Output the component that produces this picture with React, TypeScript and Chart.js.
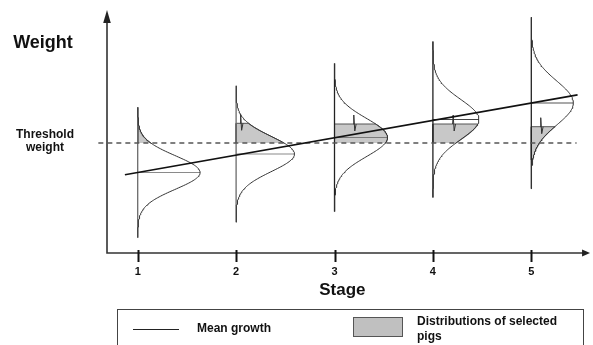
import React, { useEffect, useRef } from "react";
import { Chart, registerables } from "chart.js";

Chart.register(...registerables);

// ---- data (stage units on x, weight units on y) ----
const stages = [1, 2, 3, 4, 5];
const stageLabels = ["1", "2", "3", "4", "5"];
const meanWeights = [8.05, 9.9, 11.55, 13.35, 15.0];
const sdWeights = [1.67, 1.75, 1.9, 2.0, 2.2];
const peakDensity = [0.634, 0.593, 0.539, 0.468, 0.427];
const selectedTop = [14.56, 12.97, 12.9, 12.9, 12.63];
const selectedBottom = [11.0, 11.0, 11.0, 11.0, 9.3];
const markStage: (number | null)[] = [null, 2.05, 3.2, 4.21, 5.1];
const thresholdWeight = 11.0;
const thresholdStages = [0.6, 5.46];
const growthStages = [0.87, 5.47];
const growthWeights = [7.82, 15.81];
const tailSpan = 3.9;
const axisStages = [0.688, 5.597];
const axisWeights = [0, 24.3];

const FONT = '"Liberation Sans", Arial, Helvetica, sans-serif';

function curvePoints(i: number, from: number, to: number, n: number) {
  const pts: { x: number; y: number }[] = [];
  for (let k = 0; k <= n; k++) {
    const w = from + ((to - from) * k) / n;
    const z = (w - meanWeights[i]) / sdWeights[i];
    pts.push({ x: stages[i] + peakDensity[i] * Math.exp(-0.5 * z * z), y: w });
  }
  return pts;
}

const verticalColors = ["#6a6a6a", "#6a6a6a", "#222", "#222", "#222"];
const meanLineColors = ["#8a8a8a", "#8a8a8a", "#7a7a7a", "#444", "#555"];

function buildDatasets() {
  const ds: any[] = [];
  const base = { showLine: true, pointRadius: 0, pointHoverRadius: 0, fill: false, tension: 0 };
  ds.push({
    ...base,
    label: "Mean growth",
    data: growthStages.map((s, k) => ({ x: s, y: growthWeights[k] })),
    borderColor: "#111",
    borderWidth: 1.6,
    order: 0,
  });
  ds.push({
    ...base,
    label: "Threshold",
    data: thresholdStages.map((s) => ({ x: s, y: thresholdWeight })),
    borderColor: "#555",
    borderWidth: 1.4,
    borderDash: [5, 4],
    order: 1,
  });
  stages.forEach((s, i) => {
    const lo = meanWeights[i] - tailSpan * sdWeights[i];
    const hi = meanWeights[i] + tailSpan * sdWeights[i];
    ds.push({
      ...base,
      label: "curve" + s,
      data: curvePoints(i, lo, hi, 160),
      borderColor: "#333",
      borderWidth: 1,
      order: 2,
    });
    ds.push({
      ...base,
      label: "axis" + s,
      data: [
        { x: s, y: lo },
        { x: s, y: hi },
      ],
      borderColor: verticalColors[i],
      borderWidth: 1.3,
      order: 3,
    });
    ds.push({
      ...base,
      label: "mean" + s,
      data: [
        { x: s, y: meanWeights[i] },
        { x: s + peakDensity[i], y: meanWeights[i] },
      ],
      borderColor: meanLineColors[i],
      borderWidth: 1.2,
      order: 3,
    });
    const shade = curvePoints(i, selectedBottom[i], selectedTop[i], 60);
    shade.push({ x: s, y: selectedTop[i] }, { x: s, y: selectedBottom[i] });
    ds.push({
      ...base,
      label: "selected" + s,
      data: shade,
      borderColor: "#555",
      borderWidth: 1,
      backgroundColor: "rgb(200,200,200)",
      fill: "shape",
      order: 5,
    });
    const m = markStage[i];
    if (m !== null) {
      const t = selectedTop[i];
      ds.push({
        ...base,
        label: "mark" + s,
        data: [
          { x: m - 0.01, y: t },
          { x: m - 0.004, y: t + 0.9 },
          { x: m + 0.006, y: t - 0.7 },
          { x: m + 0.02, y: t },
        ],
        borderColor: "#333",
        borderWidth: 1,
        order: 2,
      });
    }
  });
  return ds;
}

const decor = {
  id: "decor",
  beforeDatasetsDraw(chart: any) {
    const { ctx } = chart;
    const x = chart.scales.x;
    const y = chart.scales.y;
    const x0 = x.getPixelForValue(axisStages[0]);
    const x1 = x.getPixelForValue(axisStages[1]);
    const y0 = y.getPixelForValue(axisWeights[0]);
    const y1 = y.getPixelForValue(axisWeights[1]);
    ctx.save();
    ctx.strokeStyle = "#333";
    ctx.fillStyle = "#222";
    ctx.lineWidth = 1.6;
    ctx.beginPath();
    ctx.moveTo(x0, y1 + 6);
    ctx.lineTo(x0, y0);
    ctx.lineTo(x1 - 5, y0);
    ctx.stroke();
    // arrows
    ctx.beginPath();
    ctx.moveTo(x0, y1);
    ctx.lineTo(x0 - 3.8, y1 + 13);
    ctx.lineTo(x0 + 3.8, y1 + 13);
    ctx.closePath();
    ctx.fill();
    ctx.beginPath();
    ctx.moveTo(x1, y0);
    ctx.lineTo(x1 - 8, y0 - 3.5);
    ctx.lineTo(x1 - 8, y0 + 3.5);
    ctx.closePath();
    ctx.fill();
    // ticks
    ctx.strokeStyle = "#111";
    ctx.lineWidth = 2;
    stages.forEach((s) => {
      const px = Math.round(x.getPixelForValue(s)) + 0.5;
      ctx.beginPath();
      ctx.moveTo(px, y.getPixelForValue(0.3));
      ctx.lineTo(px, y.getPixelForValue(-0.9));
      ctx.stroke();
    });
    ctx.restore();
  },
  afterDraw(chart: any) {
    const { ctx } = chart;
    const x = chart.scales.x;
    const y = chart.scales.y;
    ctx.save();
    ctx.fillStyle = "#111";
    ctx.textBaseline = "middle";
    ctx.textAlign = "center";
    ctx.font = "bold 11px " + FONT;
    stages.forEach((s, i) => {
      ctx.fillText(stageLabels[i], x.getPixelForValue(s), y.getPixelForValue(-1.9));
    });
    ctx.font = "bold 17px " + FONT;
    ctx.fillText("Stage", x.getPixelForValue(3.08), y.getPixelForValue(-3.7));
    ctx.font = "bold 18px " + FONT;
    ctx.fillText("Weight", 43, 43);
    ctx.font = "bold 12px " + FONT;
    ctx.fillText("Threshold", 45, 135);
    ctx.fillText("weight", 45, 148);
    // legend box
    ctx.strokeStyle = "#444";
    ctx.lineWidth = 1;
    ctx.strokeRect(117.5, 309.5, 466, 60);
    ctx.strokeStyle = "#222";
    ctx.beginPath();
    ctx.moveTo(133, 329.5);
    ctx.lineTo(179, 329.5);
    ctx.stroke();
    ctx.textAlign = "left";
    ctx.font = "bold 12px " + FONT;
    ctx.fillText("Mean growth", 197, 329);
    ctx.fillStyle = "rgb(192,192,192)";
    ctx.fillRect(353, 317, 50, 20);
    ctx.strokeStyle = "#555";
    ctx.strokeRect(353.5, 317.5, 49, 19);
    ctx.fillStyle = "#111";
    ctx.fillText("Distributions of selected", 417, 322);
    ctx.fillText("pigs", 417, 337);
    ctx.restore();
  },
};

export default function App() {
  const ref = useRef<HTMLCanvasElement>(null);
  useEffect(() => {
    if (!ref.current) return;
    const chart = new Chart(ref.current, {
      type: "scatter",
      data: { datasets: buildDatasets() },
      options: {
        animation: false,
        responsive: false,
        devicePixelRatio: 1,
        events: [],
        layout: { padding: 0 },
        plugins: { legend: { display: false }, tooltip: { enabled: false } },
        scales: {
          x: { type: "linear", display: false, min: -0.3994, max: 5.627 },
          y: { type: "linear", display: false, min: -9.2, max: 25.3 },
        },
      },
      plugins: [decor],
    } as any);
    return () => chart.destroy();
  }, []);
  return (
    <div style={{ position: "absolute", left: 0, top: 0, width: 593, height: 345, background: "#fff" }}>
      <canvas ref={ref} width={593} height={345} style={{ display: "block" }} />
    </div>
  );
}
